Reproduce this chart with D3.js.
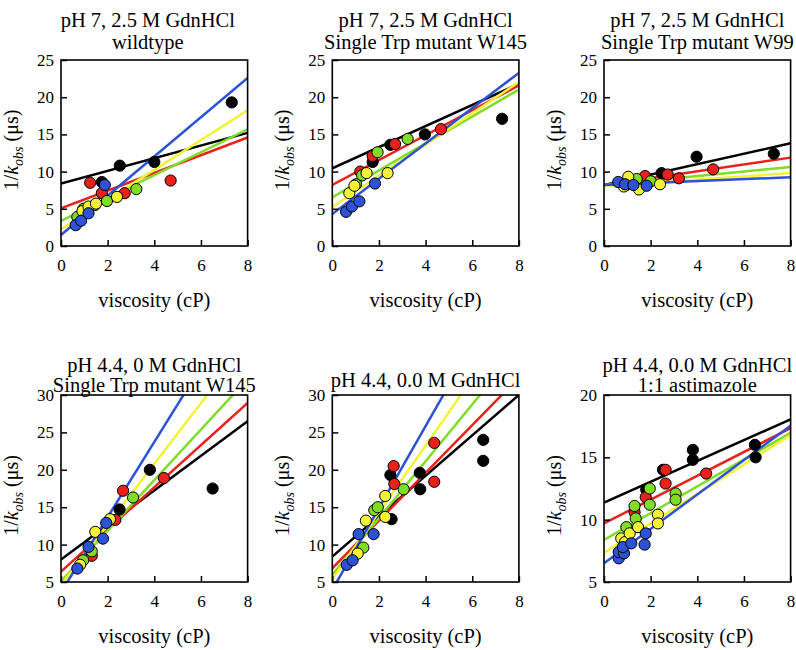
<!DOCTYPE html>
<html><head><meta charset="utf-8">
<script src="https://cdn.jsdelivr.net/npm/d3@7"></script>
<style>
body{margin:0;background:#fff}
text{font-family:"Liberation Serif","Times New Roman",serif;fill:#000}
</style>
</head><body>
<svg id="chart" width="796" height="650"></svg>
<script>
// ---------- data ----------
const xTicks = [0, 2, 4, 6, 8];
const seriesIds = ["s1", "s2", "s3", "s4", "s5"];
const seriesColors = ["#000000", "#e8221b", "#80dc24", "#f4f235", "#2d52d6"];

const panelTitles = [
  ["pH 7, 2.5 M GdnHCl", "wildtype"],
  ["pH 7, 2.5 M GdnHCl", "Single Trp mutant W145"],
  ["pH 7, 2.5 M GdnHCl", "Single Trp mutant W99"],
  ["pH 4.4, 0 M GdnHCl", "Single Trp mutant W145"],
  ["pH 4.4, 0.0 M GdnHCl"],
  ["pH 4.4, 0.0 M GdnHCl", "1:1 astimazole"]
];
const yDomains = [[0, 25], [0, 25], [0, 25], [5, 30], [5, 30], [5, 20]];
const yTickValues = [
  [0, 5, 10, 15, 20, 25], [0, 5, 10, 15, 20, 25], [0, 5, 10, 15, 20, 25],
  [5, 10, 15, 20, 25, 30], [5, 10, 15, 20, 25, 30], [5, 10, 15, 20]
];

// points per series (s1..s5), [viscosity, 1/kobs]
const wildtypePoints = [
  [[1.75, 8.6], [2.52, 10.8], [4.0, 11.3], [7.32, 19.3]],
  [[1.25, 8.5], [1.75, 7.1], [2.73, 7.1], [4.7, 8.8]],
  [[0.7, 3.9], [0.96, 5.0], [1.45, 5.5], [1.97, 6.05], [3.23, 7.65]],
  [[0.92, 4.7], [1.18, 5.3], [1.5, 5.7], [2.4, 6.6]],
  [[0.63, 2.8], [0.86, 3.4], [1.18, 4.4], [1.88, 8.2]]
];
const w145Ph7Points = [
  [[1.73, 11.3], [2.49, 13.6], [3.97, 15.0], [7.28, 17.1]],
  [[1.2, 10.0], [1.73, 12.1], [2.69, 13.7], [4.66, 15.7]],
  [[1.02, 8.3], [1.28, 9.5], [1.94, 12.6], [3.23, 14.4]],
  [[0.73, 7.1], [0.95, 8.1], [1.47, 9.8], [2.37, 9.8]],
  [[0.59, 4.6], [0.84, 5.3], [1.16, 6.0], [1.83, 8.4]]
];
const w99Points = [
  [[2.47, 9.8], [3.97, 12.0], [7.28, 12.4]],
  [[1.76, 9.4], [2.73, 9.6], [3.21, 9.1], [4.68, 10.3]],
  [[0.95, 8.2], [1.25, 8.8], [1.4, 9.0], [2.0, 8.7]],
  [[0.85, 8.0], [1.04, 9.3], [1.5, 7.6], [2.4, 8.3]],
  [[0.61, 8.6], [0.9, 8.3], [1.26, 8.2], [1.83, 8.1]]
];
const w145Ph44Points = [
  [[2.51, 14.7], [3.81, 20.0], [6.5, 17.5]],
  [[1.32, 8.5], [2.33, 13.3], [2.66, 17.2], [4.41, 18.9]],
  [[0.95, 7.9], [1.32, 9.1], [3.09, 16.3]],
  [[0.82, 7.3], [1.47, 11.7], [2.1, 13.4]],
  [[0.7, 6.8], [1.18, 9.7], [1.8, 10.8], [1.94, 12.9]]
];
const wtPh44Points = [
  [[2.49, 19.3], [2.54, 13.4], [3.75, 19.6], [3.77, 17.4], [6.47, 24.0], [6.47, 21.2]],
  [[2.63, 20.5], [2.66, 18.1], [4.37, 23.6], [4.37, 18.4]],
  [[1.33, 9.6], [1.8, 14.6], [1.95, 15.0], [3.06, 17.4]],
  [[1.09, 8.8], [1.44, 13.2], [2.27, 13.7], [2.27, 16.5]],
  [[0.62, 7.3], [0.87, 7.9], [1.13, 11.4], [1.77, 11.4]]
];
const astimazolePoints = [
  [[1.81, 12.4], [2.53, 14.0], [3.81, 15.6], [3.81, 14.8], [6.47, 16.0], [6.5, 15.0]],
  [[1.31, 10.6], [1.79, 11.8], [2.64, 14.0], [2.64, 12.9], [4.38, 13.7]],
  [[0.96, 9.4], [1.31, 11.1], [1.36, 10.1], [1.96, 12.5], [1.96, 11.2], [3.07, 12.1], [3.07, 11.6]],
  [[0.74, 8.5], [0.9, 8.2], [1.1, 8.9], [1.46, 9.4], [2.31, 10.4], [2.31, 9.7]],
  [[0.63, 6.9], [0.63, 7.4], [0.86, 7.3], [0.81, 7.8], [1.17, 8.1], [1.74, 8.0], [1.79, 8.9]]
];

// linear fits per series: [intercept, slope]
const wildtypeFits = [[8.4, 0.85], [5.07, 1.19], [3.36, 1.54], [2.24, 2.0], [1.48, 2.64]];
const w145Ph7Fits = [[10.45, 1.42], [8.2, 1.675], [6.54, 1.81], [5.25, 2.1], [4.3, 2.37]];
const w99Fits = [[8.2, 0.70], [8.2, 0.46], [8.15, 0.31], [8.05, 0.22], [8.2, 0.13]];
const w145Ph44Fits = [[8.0, 2.31], [6.38, 2.82], [5.1, 3.38], [4.6, 4.05], [3.64, 5.02]];
const wtPh44Fits = [[8.4, 2.7], [6.83, 3.19], [5.94, 3.8], [5.36, 4.47], [3.96, 5.47]];
const astimazoleFits = [[11.36, 0.836], [9.7, 0.955], [8.37, 1.075], [7.35, 1.18], [6.5, 1.38]];

const panelPoints = [wildtypePoints, w145Ph7Points, w99Points, w145Ph44Points, wtPh44Points, astimazolePoints];
const panelFits = [wildtypeFits, w145Ph7Fits, w99Fits, w145Ph44Fits, wtPh44Fits, astimazoleFits];

// ---------- layout ----------
const colLeft = [61, 332.3, 604];
const plotW = 186.6;
const rowTop = [60, 395];
const plotH = [186, 187];
const titleBaselines = [[26.7, 49.3], [371.7, 391.7]];
const singleTitleBaseline = 386.7;
const titleCenterOffset = [-6.5, 0, 0, 0, 0, 0];

const svg = d3.select("#chart");

panelTitles.forEach((title, i) => {
  const col = i % 3, row = Math.floor(i / 3);
  const left = colLeft[col], top = rowTop[row];
  const w = plotW, h = plotH[row];
  const g = svg.append("g");

  const x = d3.scaleLinear().domain([0, 8]).range([left, left + w]);
  const y = d3.scaleLinear().domain(yDomains[i]).range([top + h, top]);

  const clipId = "clip" + i;
  svg.append("defs").append("clipPath").attr("id", clipId)
    .append("rect").attr("x", left).attr("y", top).attr("width", w).attr("height", h);

  // fit lines
  const lineGen = d3.line().x(d => x(d[0])).y(d => y(d[1]));
  const fitsG = g.append("g").attr("clip-path", `url(#${clipId})`);
  panelFits[i].forEach((f, s) => {
    const pts = [0, 8].map(v => [v, f[0] + f[1] * v]);
    fitsG.append("path").attr("d", lineGen(pts))
      .attr("fill", "none").attr("stroke", seriesColors[s]).attr("stroke-width", 2.5);
  });

  // points
  panelPoints[i].forEach((ser, s) => {
    g.append("g").attr("class", seriesIds[s]).selectAll("circle").data(ser).join("circle")
      .attr("cx", d => x(d[0])).attr("cy", d => y(d[1])).attr("r", 5.6)
      .attr("fill", seriesColors[s]).attr("stroke", "#000").attr("stroke-width", 1);
  });

  // axes
  const ax = g.append("g").attr("transform", `translate(0,${top + h})`)
    .call(d3.axisBottom(x).tickValues(xTicks).tickSize(-6).tickPadding(13.4).tickFormat(d3.format("d")));
  const ay = g.append("g").attr("transform", `translate(${left},0)`)
    .call(d3.axisLeft(y).tickValues(yTickValues[i]).tickSize(-6).tickPadding(7).tickFormat(d3.format("d")));
  [ax, ay].forEach(a => {
    a.attr("font-family", null);
    a.select(".domain").remove();
    a.selectAll("line").attr("stroke", "#000").attr("stroke-width", 1.5);
    a.selectAll("text").style("font-family", "'Liberation Serif', 'Times New Roman', serif")
      .style("font-size", "17px").attr("fill", "#000");
  });

  // frame
  g.append("rect").attr("x", left).attr("y", top).attr("width", w).attr("height", h)
    .attr("fill", "none").attr("stroke", "#000").attr("stroke-width", 1.6);

  // titles
  const cx = left + w / 2 + titleCenterOffset[i];
  if (title.length === 2) {
    title.forEach((t, k) => {
      g.append("text").attr("x", cx).attr("y", titleBaselines[row][k])
        .attr("text-anchor", "middle").style("font-size", "20.5px").text(t);
    });
  } else {
    g.append("text").attr("x", cx).attr("y", singleTitleBaseline)
      .attr("text-anchor", "middle").style("font-size", "20.5px").text(title[0]);
  }

  // x label
  g.append("text").attr("x", left + w / 2).attr("y", top + h + 61)
    .attr("text-anchor", "middle").style("font-size", "20.5px").text("viscosity (cP)");

  // y label
  const cy = row === 0 ? top + h / 2 - 3 : top + h / 2 + 7;
  const yl = g.append("text").attr("transform", `translate(${left - 43},${cy}) rotate(-90)`)
    .attr("text-anchor", "middle").style("font-size", "20px");
  yl.append("tspan").text("1/");
  yl.append("tspan").attr("font-style", "italic").text("k");
  yl.append("tspan").attr("font-style", "italic").style("font-size", "14px").attr("dy", 5).text("obs");
  yl.append("tspan").attr("dy", -5).text(" (\u03bcs)");
});
</script>
</body></html>
